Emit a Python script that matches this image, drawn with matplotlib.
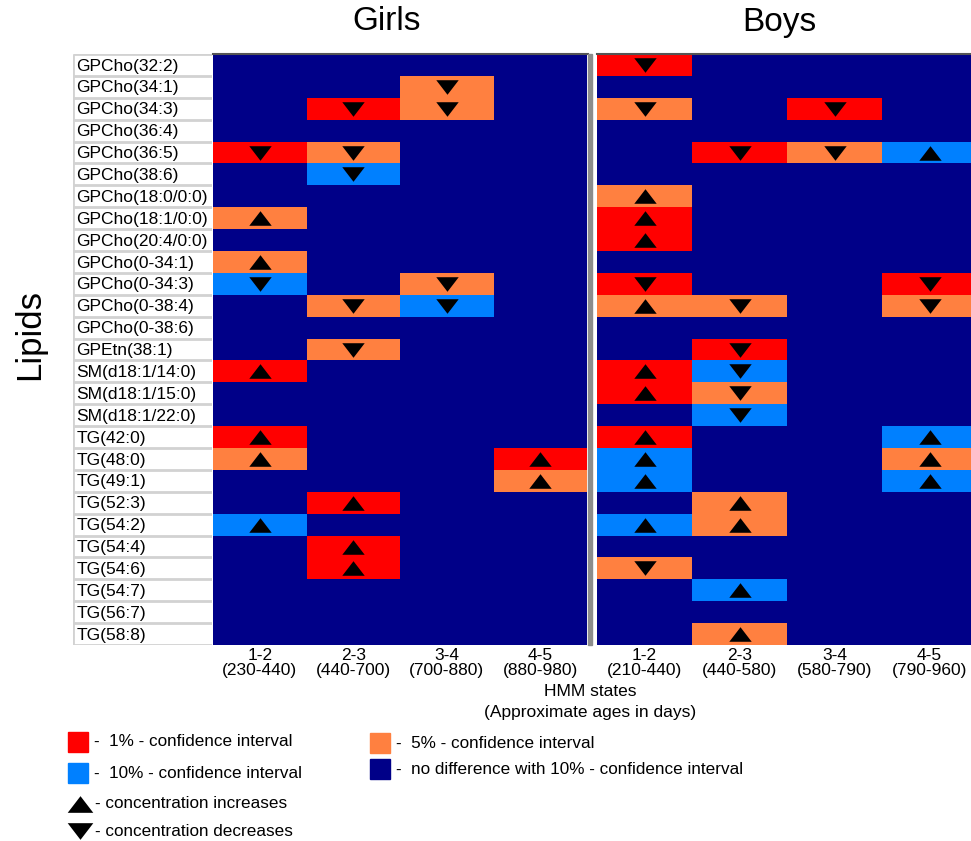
import matplotlib.pyplot as plt
import numpy as np
from matplotlib.colors import ListedColormap
from matplotlib.path import Path
from matplotlib.patches import Rectangle

plt.rcParams['font.family'] = ['Liberation Sans', 'DejaVu Sans']

lipids = ['GPCho(32:2)', 'GPCho(34:1)', 'GPCho(34:3)', 'GPCho(36:4)', 'GPCho(36:5)',
          'GPCho(38:6)', 'GPCho(18:0/0:0)', 'GPCho(18:1/0:0)', 'GPCho(20:4/0:0)',
          'GPCho(0-34:1)', 'GPCho(0-34:3)', 'GPCho(0-38:4)', 'GPCho(0-38:6)',
          'GPEtn(38:1)', 'SM(d18:1/14:0)', 'SM(d18:1/15:0)', 'SM(d18:1/22:0)',
          'TG(42:0)', 'TG(48:0)', 'TG(49:1)', 'TG(52:3)', 'TG(54:2)', 'TG(54:4)',
          'TG(54:6)', 'TG(54:7)', 'TG(56:7)', 'TG(58:8)']

states = ['1-2', '2-3', '3-4', '4-5']
girls_ages = ['(230-440)', '(440-700)', '(700-880)', '(880-980)']
boys_ages = ['(210-440)', '(440-580)', '(580-790)', '(790-960)']

# signed code: level of confidence interval (1, 5, 10 %), sign = direction, 0 = no difference
girls = [
    [0, 0, 0, 0],
    [0, 0, -5, 0],
    [0, -1, -5, 0],
    [0, 0, 0, 0],
    [-1, -5, 0, 0],
    [0, -10, 0, 0],
    [0, 0, 0, 0],
    [5, 0, 0, 0],
    [0, 0, 0, 0],
    [5, 0, 0, 0],
    [-10, 0, -5, 0],
    [0, -5, -10, 0],
    [0, 0, 0, 0],
    [0, -5, 0, 0],
    [1, 0, 0, 0],
    [0, 0, 0, 0],
    [0, 0, 0, 0],
    [1, 0, 0, 0],
    [5, 0, 0, 1],
    [0, 0, 0, 5],
    [0, 1, 0, 0],
    [10, 0, 0, 0],
    [0, 1, 0, 0],
    [0, 1, 0, 0],
    [0, 0, 0, 0],
    [0, 0, 0, 0],
    [0, 0, 0, 0],
]
boys = [
    [-1, 0, 0, 0],
    [0, 0, 0, 0],
    [-5, 0, -1, 0],
    [0, 0, 0, 0],
    [0, -1, -5, 10],
    [0, 0, 0, 0],
    [5, 0, 0, 0],
    [1, 0, 0, 0],
    [1, 0, 0, 0],
    [0, 0, 0, 0],
    [-1, 0, 0, -1],
    [5, -5, 0, -5],
    [0, 0, 0, 0],
    [0, -1, 0, 0],
    [1, -10, 0, 0],
    [1, -5, 0, 0],
    [0, -10, 0, 0],
    [1, 0, 0, 10],
    [10, 0, 0, 5],
    [10, 0, 0, 10],
    [0, 5, 0, 0],
    [10, 5, 0, 0],
    [0, 0, 0, 0],
    [-5, 0, 0, 0],
    [0, 10, 0, 0],
    [0, 0, 0, 0],
    [0, 5, 0, 0],
]

NAVY, RED, ORANGE, BLUE = '#000088', '#FF0000', '#FF8040', '#0080FF'
cmap = ListedColormap([NAVY, RED, ORANGE, BLUE])
level_idx = {0: 0, 1: 1, 5: 2, 10: 3}

up = Path([(-1, -0.65), (1, -0.65), (0, 0.65), (-1, -0.65)], closed=True)
down = Path([(-1, 0.65), (1, 0.65), (0, -0.65), (-1, 0.65)], closed=True)

W, H = 971, 841
fig = plt.figure(figsize=(W / 100, H / 100), dpi=100)


def box(x0, y0, x1, y1):
    return [x0 / W, 1 - y1 / H, (x1 - x0) / W, (y1 - y0) / H]


def draw_panel(ax, codes, ages, ncols_visible):
    codes = np.array(codes)
    idx = np.vectorize(lambda v: level_idx[abs(v)])(codes)
    n = len(lipids)
    ax.pcolormesh(np.arange(5), np.arange(n + 1), idx, cmap=cmap, vmin=-0.5, vmax=3.5)
    rows, cols = np.nonzero(codes > 0)
    ax.scatter(cols + 0.5, rows + 0.5, marker=up, s=260, c='black', lw=0)
    rows, cols = np.nonzero(codes < 0)
    ax.scatter(cols + 0.5, rows + 0.5, marker=down, s=260, c='black', lw=0)
    ax.set_xlim(0, ncols_visible)
    ax.set_ylim(n, 0)
    ax.set_yticks([])
    ax.set_xticks(np.arange(4) + 0.5)
    ax.set_xticklabels([s + '\n' + a for s, a in zip(states, ages)], fontsize=12.5, linespacing=1.05)
    ax.tick_params(axis='x', length=0, pad=2)
    for side in ['left', 'right', 'bottom']:
        ax.spines[side].set_visible(False)
    ax.spines['top'].set_color('#555555')
    ax.spines['top'].set_linewidth(1.5)


ax_g = fig.add_axes(box(213, 54, 588, 645))
draw_panel(ax_g, girls, girls_ages, 4.01)
ax_b = fig.add_axes(box(597, 54, 971, 645))
draw_panel(ax_b, boys, boys_ages, 374 / 95)

# separator between panels
fig.patches.append(Rectangle((588 / W, 1 - 645 / H), 4 / W, 591 / H,
                             transform=fig.transFigure, color='#8C8C8C', zorder=5))

# lipid name table
ax_l = fig.add_axes(box(73, 54, 212, 645))
ax_l.set_xlim(0, 1)
ax_l.set_ylim(len(lipids), 0)
ax_l.axis('off')
for i, name in enumerate(lipids):
    ax_l.text(0.025, i + 0.55, name, fontsize=12.5, va='center', ha='left')
ax_l.hlines(np.arange(len(lipids) + 1), 0, 1, color='#D2D2D2', lw=2)
ax_l.vlines(0, 0, len(lipids), color='#D2D2D2', lw=2)

fig.text(387 / W, 1 - 22 / H, 'Girls', fontsize=24, ha='center', va='center')
fig.text(779 / W, 1 - 22 / H, 'Boys', fontsize=24, ha='center', va='center')
fig.text(30 / W, 1 - 334 / H, 'Lipids', fontsize=25, ha='center', va='center', rotation=90)
fig.text(590 / W, 1 - 691 / H, 'HMM states', fontsize=12.5, ha='center', va='center')
fig.text(590 / W, 1 - 713 / H, '(Approximate ages in days)', fontsize=12.5, ha='center', va='center')

# legend
ov = fig.add_axes([0, 0, 1, 1])
ov.set_xlim(0, W)
ov.set_ylim(H, 0)
ov.axis('off')
legend_boxes = [
    (68, 732, RED, '-  1% - confidence interval'),
    (68, 763, BLUE, '-  10% - confidence interval'),
    (370, 733, ORANGE, '-  5% - confidence interval'),
    (370, 759, NAVY, '-  no difference with 10% - confidence interval'),
]
for x, y, col, label in legend_boxes:
    ov.add_patch(Rectangle((x, y), 20, 20, color=col))
    ov.text(x + 26, y + 10, label, fontsize=12.3, va='center', ha='left')
ov.scatter([80], [804], marker=up, s=340, c='black', lw=0)
ov.text(95, 804, '- concentration increases', fontsize=12.3, va='center', ha='left')
ov.scatter([80], [831], marker=down, s=340, c='black', lw=0)
ov.text(95, 831, '- concentration decreases', fontsize=12.3, va='center', ha='left')

fig.savefig('out.png', dpi=100)
